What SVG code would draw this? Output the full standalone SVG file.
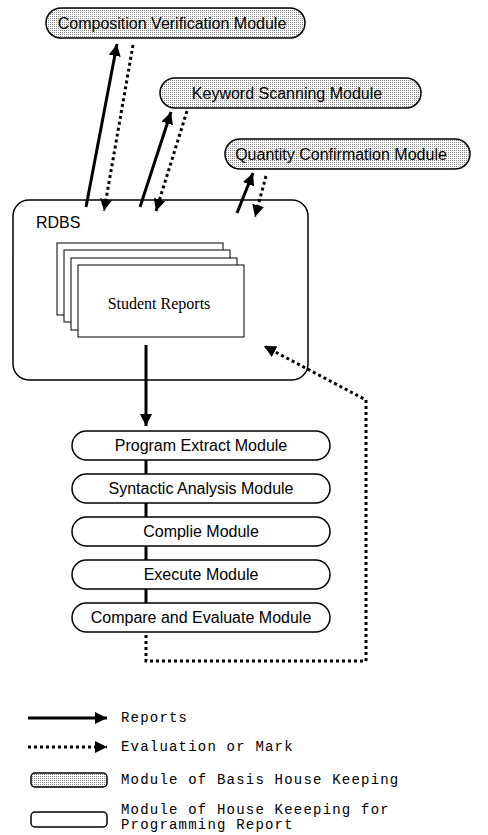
<svg xmlns="http://www.w3.org/2000/svg" width="488" height="835" viewBox="0 0 488 835">
<style>
.bg{fill:#fff}
.gray{fill:url(#dots);stroke:#000;stroke-width:1.5}
.white{fill:#fff;stroke:#000;stroke-width:1.5}
.lbl{font-family:"Liberation Sans",Arial,sans-serif;font-size:16px;fill:#000;text-anchor:middle}
.mono{font-family:"Liberation Mono","Courier New",monospace;font-size:14px;letter-spacing:1.2px;fill:#000}
.solid{stroke:#000;stroke-width:3;fill:none}
.dot{stroke:#000;stroke-width:3;fill:none;stroke-dasharray:3 3}
.page{fill:#fff;stroke:#000;stroke-width:1}
</style>
<defs>
<pattern id="dots" width="2" height="2" patternUnits="userSpaceOnUse">
<rect width="2" height="2" fill="#fff"/>
<rect width="1" height="1" fill="#8a8a8a"/>
</pattern>
<marker id="ah" viewBox="0 0 10 10" refX="10" refY="5" markerWidth="4" markerHeight="4" orient="auto" markerUnits="strokeWidth">
<path d="M0,0 L10,5 L0,10 z" fill="#000"/>
</marker>
</defs>
<rect class="bg" width="488" height="835"/>

<g id="composition">
<rect class="gray" x="46" y="8" width="259" height="30" rx="15"/>
<text class="lbl" x="172" y="29">Composition Verification Module</text>
</g>
<g id="keyword">
<rect class="gray" x="160" y="78" width="261" height="30" rx="15"/>
<text class="lbl" x="287" y="99">Keyword Scanning Module</text>
</g>
<g id="quantity">
<rect class="gray" x="225" y="139" width="245" height="30" rx="15"/>
<text class="lbl" x="341" y="160">Quantity Confirmation Module</text>
</g>

<g id="rdbs">
<rect class="white" x="13" y="200" width="295" height="180" rx="16"/>
<text x="36" y="228" style="font-family:'Liberation Sans',Arial,sans-serif;font-size:16px">RDBS</text>
<rect class="page" x="57" y="243" width="166" height="72"/>
<rect class="page" x="64" y="250" width="166" height="72"/>
<rect class="page" x="71" y="258" width="166" height="72"/>
<rect class="page" x="78" y="265" width="166" height="72"/>
<text x="159" y="309" style="font-family:'Liberation Serif','Times New Roman',serif;font-size:16px;text-anchor:middle">Student Reports</text>
</g>

<g id="program-extract">
<rect class="white" x="72" y="431" width="258" height="29" rx="14.5"/>
<text class="lbl" x="201" y="451">Program Extract Module</text>
</g>
<g id="syntactic">
<rect class="white" x="72" y="474" width="258" height="29" rx="14.5"/>
<text class="lbl" x="201" y="494">Syntactic Analysis Module</text>
</g>
<g id="complie">
<rect class="white" x="72" y="517" width="258" height="29" rx="14.5"/>
<text class="lbl" x="201" y="537">Complie Module</text>
</g>
<g id="execute">
<rect class="white" x="72" y="560" width="258" height="29" rx="14.5"/>
<text class="lbl" x="201" y="580">Execute Module</text>
</g>
<g id="compare">
<rect class="white" x="72" y="603" width="258" height="29" rx="14.5"/>
<text class="lbl" x="201" y="623">Compare and Evaluate Module</text>
</g>

<g id="connectors">
<line class="solid" x1="86" y1="207" x2="117" y2="44" marker-end="url(#ah)"/>
<line class="dot" x1="133" y1="45" x2="104" y2="211" marker-end="url(#ah)"/>
<line class="solid" x1="140" y1="207" x2="171" y2="112" marker-end="url(#ah)"/>
<line class="dot" x1="187" y1="111" x2="156" y2="211" marker-end="url(#ah)"/>
<line class="solid" x1="237" y1="213" x2="253" y2="173" marker-end="url(#ah)"/>
<line class="dot" x1="266" y1="176" x2="255" y2="217" marker-end="url(#ah)"/>
<line class="solid" x1="146" y1="345" x2="146" y2="426" marker-end="url(#ah)"/>
<line class="solid" x1="146" y1="460" x2="146" y2="474"/>
<line class="solid" x1="146" y1="503" x2="146" y2="517"/>
<line class="solid" x1="146" y1="546" x2="146" y2="560"/>
<line class="solid" x1="146" y1="589" x2="146" y2="603"/>
<polyline class="dot" points="146,635 146,661 366,661 366,400 264,346" marker-end="url(#ah)"/>
</g>

<g id="legend">
<line class="solid" x1="28" y1="718" x2="107" y2="718" marker-end="url(#ah)"/>
<text class="mono" x="121" y="722">Reports</text>
<line class="dot" x1="28" y1="747" x2="107" y2="747" marker-end="url(#ah)"/>
<text class="mono" x="121" y="751">Evaluation or Mark</text>
<rect class="gray" x="31" y="773" width="76" height="14" rx="4"/>
<text class="mono" x="121" y="784">Module of Basis House Keeping</text>
<rect class="white" x="31" y="812" width="76" height="15" rx="4"/>
<text class="mono" x="121" y="814">Module of House Keeeping for</text>
<text class="mono" x="121" y="829">Programming Report</text>
</g>
</svg>
